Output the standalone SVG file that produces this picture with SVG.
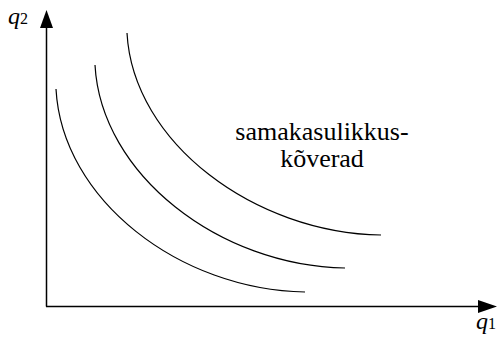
<svg xmlns="http://www.w3.org/2000/svg" width="500" height="338" viewBox="0 0 500 338">
<style>
.ax{stroke:#000;stroke-width:1.5;fill:none}
.cv{stroke:#000;stroke-width:1.2;fill:none}
</style>
<rect width="500" height="338" fill="#fff"/>
<g id="axes">
<line class="ax" x1="46.5" y1="306.5" x2="46.5" y2="26"/>
<line class="ax" x1="46" y1="306.5" x2="480" y2="306.5"/>
<polygon points="46.5,10 40,28 53,28" fill="#000"/>
<polygon points="497,306.5 478,300 478,313" fill="#000"/>
</g>
<g id="curves">
<path class="cv" d="M56,89 C62,200 180,290 305,292"/>
<path class="cv" d="M95,65 C101,175 220,266 345,268"/>
<path class="cv" d="M127,33 C133,143 255,233 381,235"/>
</g>
<g id="labels" font-family="Liberation Serif, DejaVu Serif, serif" fill="#000">
<text x="8" y="24" font-size="24" font-style="italic">q<tspan font-style="normal" font-size="16">2</tspan></text>
<text x="476" y="329" font-size="24" font-style="italic">q<tspan font-style="normal" font-size="16">1</tspan></text>
<text x="322" y="140" font-size="26" text-anchor="middle">samakasulikkus-</text>
<text x="322" y="167" font-size="26" text-anchor="middle">kõverad</text>
</g>
</svg>
